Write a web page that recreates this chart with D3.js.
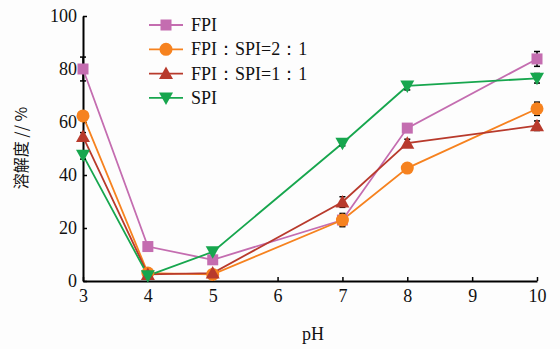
<html>
<head>
<meta charset="utf-8">
<script src="https://cdn.jsdelivr.net/npm/d3@7/dist/d3.min.js"></script>
<style>
body { margin: 0; background: #fdfdfd; }
text { font-family: "Liberation Serif", "DejaVu Serif", serif; }
.cjk { font-family: "Noto Sans CJK SC", sans-serif; }
</style>
</head>
<body>
<svg id="chart" width="560" height="349"></svg>
<script>
// pH values on x
var phs = [3, 4, 5, 7, 8, 10];
var xTicks = [3, 4, 5, 6, 7, 8, 9, 10];
var yTicks = [0, 20, 40, 60, 80, 100];

// solubility (%)
var fpi    = [80, 13, 8, 23, 57.7, 83.8];
var fpi21  = [62.3, 3, 2.5, 23, 42.6, 65];
var fpi11  = [54.5, 2.5, 3, 29.8, 52, 58.6];
var spi    = [47.5, 2, 11, 52, 73.6, 76.5];

// error (half-length of bars)
var fpiErr   = [4.5, 0.8, 0.8, 2, 1, 2.8];
var fpi21Err = [1.5, 0.8, 0.8, 2.5, 1, 2.5];
var fpi11Err = [1.5, 0.5, 0.5, 2, 1.5, 1.8];
var spiErr   = [1.5, 0.5, 1.5, 1, 1.5, 1.8];

var names = ["FPI", "FPI\uFF1ASPI=2\uFF1A1", "FPI\uFF1ASPI=1\uFF1A1", "SPI"];
var colors = ["#c46db0", "#f6821f", "#b83a2c", "#17a64e"];
var shapes = ["square", "circle", "tri", "tridown"];

var series = [fpi, fpi21, fpi11, spi].map(function(v, i) {
    var errs = [fpiErr, fpi21Err, fpi11Err, spiErr][i];
    return { name: names[i], color: colors[i], shape: shapes[i],
             pts: phs.map(function(p, j) { return { x: p, y: v[j], e: errs[j] }; }) };
});

var svg = d3.select("#chart");
var x = d3.scaleLinear().domain([3, 10]).range([83, 537]);
var y = d3.scaleLinear().domain([0, 100]).range([281, 16]);

// axes
var xAxis = svg.append("g").attr("transform", "translate(0," + y(0) + ")")
    .call(d3.axisBottom(x).tickValues(xTicks).tickFormat(d3.format("d"))
        .tickSizeInner(-4).tickSizeOuter(0).tickPadding(8));
var yAxis = svg.append("g").attr("transform", "translate(" + x(3) + ",0)")
    .call(d3.axisLeft(y).tickValues(yTicks).tickFormat(d3.format("d"))
        .tickSizeInner(-4).tickSizeOuter(0).tickPadding(6));
[xAxis, yAxis].forEach(function(a) {
    a.attr("font-family", null);
    a.select(".domain").attr("stroke", "#000").attr("stroke-width", 2);
    a.selectAll(".tick line").attr("stroke", "#000").attr("stroke-width", 1.5);
    a.selectAll("text").attr("fill", "#111").style("font-size", "18px")
        .style("font-family", "'Liberation Serif', serif");
});

// lines
var line = d3.line().x(function(d) { return x(d.x); }).y(function(d) { return y(d.y); });
series.forEach(function(s) {
    svg.append("path").datum(s.pts).attr("d", line)
        .attr("fill", "none").attr("stroke", s.color).attr("stroke-width", 1.8);
});

// error bars
series.forEach(function(s) {
    var g = svg.append("g").attr("stroke", "#000").attr("stroke-width", 1.5);
    s.pts.forEach(function(d) {
        g.append("line").attr("x1", x(d.x)).attr("x2", x(d.x))
            .attr("y1", y(d.y - d.e)).attr("y2", y(d.y + d.e));
        [d.y - d.e, d.y + d.e].forEach(function(v) {
            g.append("line").attr("x1", x(d.x) - 3).attr("x2", x(d.x) + 3)
                .attr("y1", y(v)).attr("y2", y(v));
        });
    });
});

function marker(g, shape, cx, cy, color) {
    if (shape == "square") {
        g.append("rect").attr("x", cx - 5.5).attr("y", cy - 5.5).attr("width", 11).attr("height", 11).attr("fill", color);
    } else if (shape == "circle") {
        g.append("circle").attr("cx", cx).attr("cy", cy).attr("r", 6.5).attr("fill", color);
    } else if (shape == "tri") {
        g.append("path").attr("d", "M" + cx + "," + (cy - 7) + "L" + (cx + 7) + "," + (cy + 5.5) + "L" + (cx - 7) + "," + (cy + 5.5) + "Z").attr("fill", color);
    } else {
        g.append("path").attr("d", "M" + cx + "," + (cy + 7) + "L" + (cx + 7) + "," + (cy - 5.5) + "L" + (cx - 7) + "," + (cy - 5.5) + "Z").attr("fill", color);
    }
}

// markers
series.forEach(function(s) {
    var g = svg.append("g");
    s.pts.forEach(function(d) { marker(g, s.shape, x(d.x), y(d.y), s.color); });
});

// legend
var leg = svg.append("g");
series.forEach(function(s, i) {
    var ly = 25 + i * 24.3;
    leg.append("line").attr("x1", 149).attr("x2", 183).attr("y1", ly).attr("y2", ly)
        .attr("stroke", s.color).attr("stroke-width", 1.8);
    marker(leg, s.shape, 166, ly, s.color);
    leg.append("text").attr("x", 191).attr("y", ly + 6).attr("fill", "#111")
        .style("font-size", "18px").text(s.name);
});

// axis titles
svg.append("text").attr("x", 313).attr("y", 340).attr("text-anchor", "middle")
    .attr("fill", "#111").style("font-size", "18px").text("pH");
svg.append("text").attr("class", "cjk").attr("transform", "translate(27,148) rotate(-90)")
    .attr("text-anchor", "middle").attr("fill", "#111").style("font-size", "16px").text("溶解度 // %");
</script>
</body>
</html>
